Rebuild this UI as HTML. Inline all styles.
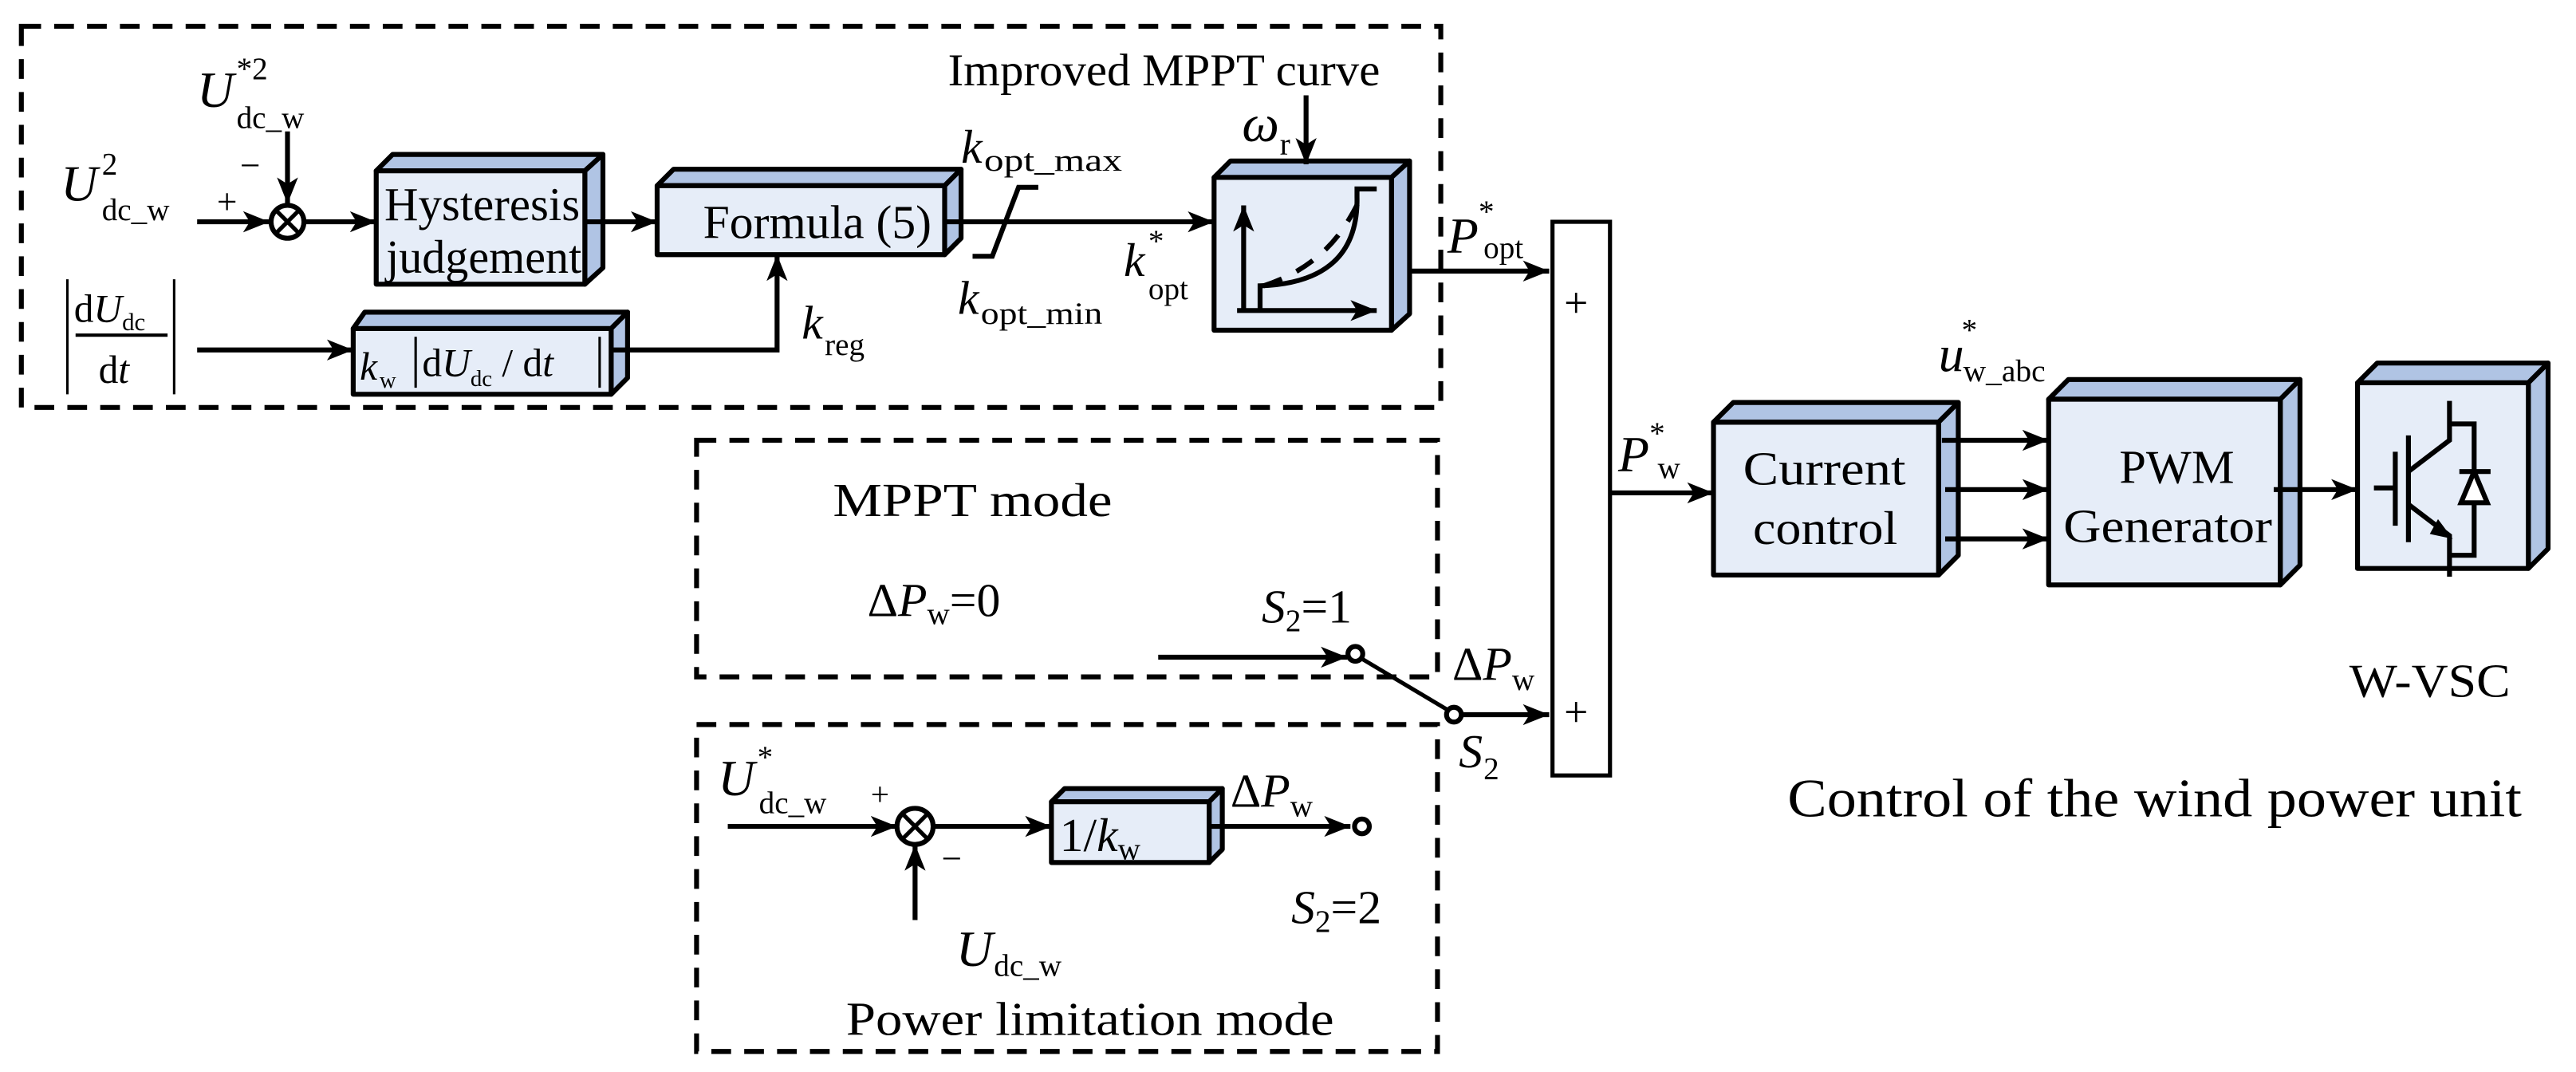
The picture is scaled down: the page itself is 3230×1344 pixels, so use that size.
<!DOCTYPE html>
<html><head><meta charset="utf-8"><style>
html,body{margin:0;padding:0;background:#fff}
svg{display:block}
svg text{font-family:"Liberation Serif","Times New Roman",serif !important;fill:#000}
.i{font-style:italic}
</style></head><body>
<svg width="3230" height="1344" viewBox="0 0 1568 652.5" preserveAspectRatio="none" xmlns="http://www.w3.org/2000/svg" font-family="Liberation Serif, serif">
<defs>
<marker id="b" viewBox="0 0 10 10" refX="10" refY="5" markerWidth="16" markerHeight="16" orient="auto" markerUnits="userSpaceOnUse">
<path d="M0,1 L10,5 L0,9 L2.5,5 z" fill="#000"/></marker>
</defs>
<g fill="none" stroke="#000" stroke-width="3" stroke-dasharray="12,8">
<rect x="13" y="16" width="864" height="232"/>
<rect x="424" y="268" width="451" height="144"/>
<rect x="424" y="441" width="451" height="199"/>
</g>
<g stroke="#000" stroke-width="3" stroke-linejoin="round">
<path d="M229,104 L239,94 L367,94 L356,104 Z" fill="#b0c4e4"/><path d="M356,104 L367,94 L367,163 L356,173 Z" fill="#b0c4e4"/><rect x="229" y="104" width="127" height="69" fill="#e6edf8"/>
<path d="M400,113 L410,103 L585,103 L575,113 Z" fill="#b0c4e4"/><path d="M575,113 L585,103 L585,145 L575,155 Z" fill="#b0c4e4"/><rect x="400" y="113" width="175" height="42" fill="#e6edf8"/>
<path d="M215,200 L222,190 L382,190 L372,200 Z" fill="#b0c4e4"/><path d="M372,200 L382,190 L382,230 L372,240 Z" fill="#b0c4e4"/><rect x="215" y="200" width="157" height="40" fill="#e6edf8"/>
<path d="M739,108 L749,98 L858,98 L847,108 Z" fill="#b0c4e4"/><path d="M847,108 L858,98 L858,191 L847,201 Z" fill="#b0c4e4"/><rect x="739" y="108" width="108" height="93" fill="#e6edf8"/>
<path d="M640,488 L648,480 L744,480 L736,488 Z" fill="#b0c4e4"/><path d="M736,488 L744,480 L744,517 L736,525 Z" fill="#b0c4e4"/><rect x="640" y="488" width="96" height="37" fill="#e6edf8"/>
<path d="M1043,257 L1055,245 L1192,245 L1180,257 Z" fill="#b0c4e4"/><path d="M1180,257 L1192,245 L1192,338 L1180,350 Z" fill="#b0c4e4"/><rect x="1043" y="257" width="137" height="93" fill="#e6edf8"/>
<path d="M1247,243 L1259,231 L1400,231 L1388,243 Z" fill="#b0c4e4"/><path d="M1388,243 L1400,231 L1400,344 L1388,356 Z" fill="#b0c4e4"/><rect x="1247" y="243" width="141" height="113" fill="#e6edf8"/>
<path d="M1435,233 L1447,221 L1551,221 L1539,233 Z" fill="#b0c4e4"/><path d="M1539,233 L1551,221 L1551,334 L1539,346 Z" fill="#b0c4e4"/><rect x="1435" y="233" width="104" height="113" fill="#e6edf8"/>
</g>
<rect x="945" y="135" width="35" height="337" fill="#fff" stroke="#000" stroke-width="2.5"/>
<text x="952" y="193" font-size="26">+</text><text x="952" y="442" font-size="26">+</text>
<g stroke="#000" stroke-width="3" fill="none" marker-end="url(#b)">
<line x1="120" y1="135" x2="164" y2="135"/>
<line x1="175" y1="80" x2="175" y2="124"/>
<line x1="186" y1="135" x2="229" y2="135"/>
<line x1="356" y1="135" x2="400" y2="135"/>
<line x1="575" y1="135" x2="739" y2="135"/>
<line x1="795" y1="58" x2="795" y2="100"/>
<line x1="120" y1="213" x2="215" y2="213"/>
<polyline points="372,213 473,213 473,155"/>
<line x1="858" y1="165" x2="943" y2="165"/>
<line x1="980" y1="300" x2="1043" y2="300"/>
<line x1="1182" y1="268" x2="1247" y2="268"/>
<line x1="1184" y1="298" x2="1247" y2="298"/>
<line x1="1184" y1="328" x2="1247" y2="328"/>
<line x1="1384" y1="298" x2="1435" y2="298"/>
<line x1="705" y1="400" x2="820" y2="400"/>
<line x1="890" y1="435" x2="943" y2="435"/>
<line x1="443" y1="503" x2="546" y2="503"/>
<line x1="567" y1="503" x2="640" y2="503"/>
<line x1="736" y1="503" x2="822" y2="503"/>
<line x1="557" y1="560" x2="557" y2="514"/>
</g>
<g stroke="#000" stroke-width="3" fill="#fff">
<circle cx="175" cy="135" r="10"/><circle cx="557" cy="503" r="11"/>
<circle cx="825" cy="398" r="4.5"/><circle cx="885" cy="435" r="4.5"/><circle cx="829" cy="503" r="4.5"/>
</g>
<g stroke="#000" stroke-width="2.5">
<line x1="168" y1="128" x2="182" y2="142"/><line x1="182" y1="128" x2="168" y2="142"/>
<line x1="549" y1="495" x2="565" y2="511"/><line x1="565" y1="495" x2="549" y2="511"/>
<line x1="829" y1="401" x2="881" y2="432"/>
</g>
<polyline points="592,156 604,156 620,114 632,114" fill="none" stroke="#000" stroke-width="3"/>
<g stroke="#000" stroke-width="3" fill="none">
<polyline points="757,189 757,125" marker-end="url(#b)"/>
<polyline points="753,189 838,189" marker-end="url(#b)"/>
<path d="M767,189 V174 Q827,172 826,120 V115 H838"/>
<path d="M769,174 Q800,164 817,140 Q827,125 830,115" stroke-dasharray="12,10"/>
</g>
<g stroke="#000" stroke-width="1.5">
<line x1="253" y1="205" x2="253" y2="236"/><line x1="365" y1="205" x2="365" y2="236"/>
<line x1="41" y1="170" x2="41" y2="240"/><line x1="106" y1="170" x2="106" y2="240"/>
<line x1="46" y1="204" x2="102" y2="204" stroke-width="2"/>
</g>
<g stroke="#000" stroke-width="3" fill="none">
<line x1="1445" y1="297" x2="1458" y2="297"/><line x1="1458" y1="275" x2="1458" y2="320"/>
<line x1="1466" y1="265" x2="1466" y2="330"/>
<polyline points="1491,244 1491,268 1466,287"/>
<polyline points="1466,307 1491,326 1491,351"/>
<polyline points="1491,258 1506,258 1506,338 1491,338"/>
<line x1="1497" y1="287" x2="1516" y2="287"/>
<path d="M1506,287 L1498,306 L1514,306 Z" fill="#fff"/>
</g>
<path d="M1484,316 L1493,328 L1479,325 Z" fill="#000"/>
<g font-size="29">
<text x="37" y="122" class="i" font-size="31">U</text><text x="62" y="106" font-size="19">2</text><text x="62" y="134" font-size="19">dc_w</text>
<text x="120" y="65" class="i" font-size="31">U</text><text x="144" y="48" font-size="19">*2</text><text x="144" y="78" font-size="19">dc_w</text>
<text x="146" y="108" font-size="22">−</text><text x="132" y="130" font-size="22">+</text>
<text x="234" y="134" textLength="119" lengthAdjust="spacingAndGlyphs">Hysteresis</text><text x="235" y="166" textLength="119" lengthAdjust="spacingAndGlyphs">judgement</text>
<text x="428" y="145" textLength="139" lengthAdjust="spacingAndGlyphs">Formula (5)</text>
<text x="577" y="52" font-size="28" textLength="263" lengthAdjust="spacingAndGlyphs">Improved MPPT curve</text>
<text x="756" y="86" class="i" font-size="32">ω</text><text x="779" y="94" font-size="19">r</text>
<text x="585" y="99" class="i">k</text><text x="599" y="104" font-size="19" textLength="84" lengthAdjust="spacingAndGlyphs">opt_max</text>
<text x="583" y="191" class="i">k</text><text x="597" y="197" font-size="19" textLength="74" lengthAdjust="spacingAndGlyphs">opt_min</text>
<text x="684" y="168" class="i">k</text><text x="699" y="153" font-size="19">*</text><text x="699" y="182" font-size="19">opt</text>
<text x="488" y="206" class="i">k</text><text x="502" y="216" font-size="19">reg</text>
<text x="45" y="196" font-size="24">d<tspan class="i">U</tspan><tspan font-size="15" dy="5">dc</tspan></text>
<text x="60" y="233" font-size="24">d<tspan class="i">t</tspan></text>
<text x="219" y="231" font-size="24" class="i">k</text><text x="231" y="236" font-size="14">w</text>
<text x="257" y="229" font-size="24">d<tspan class="i">U</tspan><tspan font-size="14" dy="6">dc</tspan><tspan dy="-6"> / d</tspan><tspan class="i">t</tspan></text>
<text x="881" y="154" class="i" font-size="31">P</text><text x="900" y="135" font-size="19">*</text><text x="903" y="157" font-size="19">opt</text>
<text x="985" y="287" class="i" font-size="31">P</text><text x="1004" y="270" font-size="19">*</text><text x="1009" y="291" font-size="19">w</text>
<text x="1180" y="226" class="i" font-size="31">u</text><text x="1194" y="207" font-size="19">*</text><text x="1195" y="232" font-size="19" textLength="50" lengthAdjust="spacingAndGlyphs">w_abc</text>
<text x="1061" y="295" textLength="99" lengthAdjust="spacingAndGlyphs">Current</text><text x="1067" y="331" textLength="88" lengthAdjust="spacingAndGlyphs">control</text>
<text x="1290" y="294" textLength="70" lengthAdjust="spacingAndGlyphs">PWM</text><text x="1256" y="330" textLength="127" lengthAdjust="spacingAndGlyphs">Generator</text>
<text x="1430" y="424" textLength="98" lengthAdjust="spacingAndGlyphs">W-VSC</text>
<text x="1088" y="497" font-size="33" textLength="447" lengthAdjust="spacingAndGlyphs">Control of the wind power unit</text>
<text x="507" y="314" textLength="170" lengthAdjust="spacingAndGlyphs">MPPT  mode</text>
<text x="528" y="375">Δ<tspan class="i">P</tspan><tspan font-size="19" dy="5">w</tspan><tspan dy="-5">=0</tspan></text>
<text x="768" y="379"><tspan class="i">S</tspan><tspan font-size="19" dy="5">2</tspan><tspan dy="-5">=1</tspan></text>
<text x="884" y="414">Δ<tspan class="i">P</tspan><tspan font-size="19" dy="6">w</tspan></text>
<text x="888" y="467" class="i">S</text><text x="903" y="474" font-size="19">2</text>
<text x="437" y="484" class="i" font-size="31">U</text><text x="461" y="467" font-size="19">*</text><text x="462" y="495" font-size="19">dc_w</text>
<text x="530" y="490" font-size="20">+</text><text x="573" y="530" font-size="22">−</text>
<text x="645" y="518">1/<tspan class="i">k</tspan><tspan font-size="19" dy="5">w</tspan></text>
<text x="749" y="491">Δ<tspan class="i">P</tspan><tspan font-size="19" dy="6">w</tspan></text>
<text x="786" y="562"><tspan class="i">S</tspan><tspan font-size="19" dy="5">2</tspan><tspan dy="-5">=2</tspan></text>
<text x="582" y="588" class="i" font-size="31">U</text><text x="605" y="594" font-size="19">dc_w</text>
<text x="515" y="630" textLength="297" lengthAdjust="spacingAndGlyphs">Power limitation mode</text>
</g>
</svg>
</body></html>
